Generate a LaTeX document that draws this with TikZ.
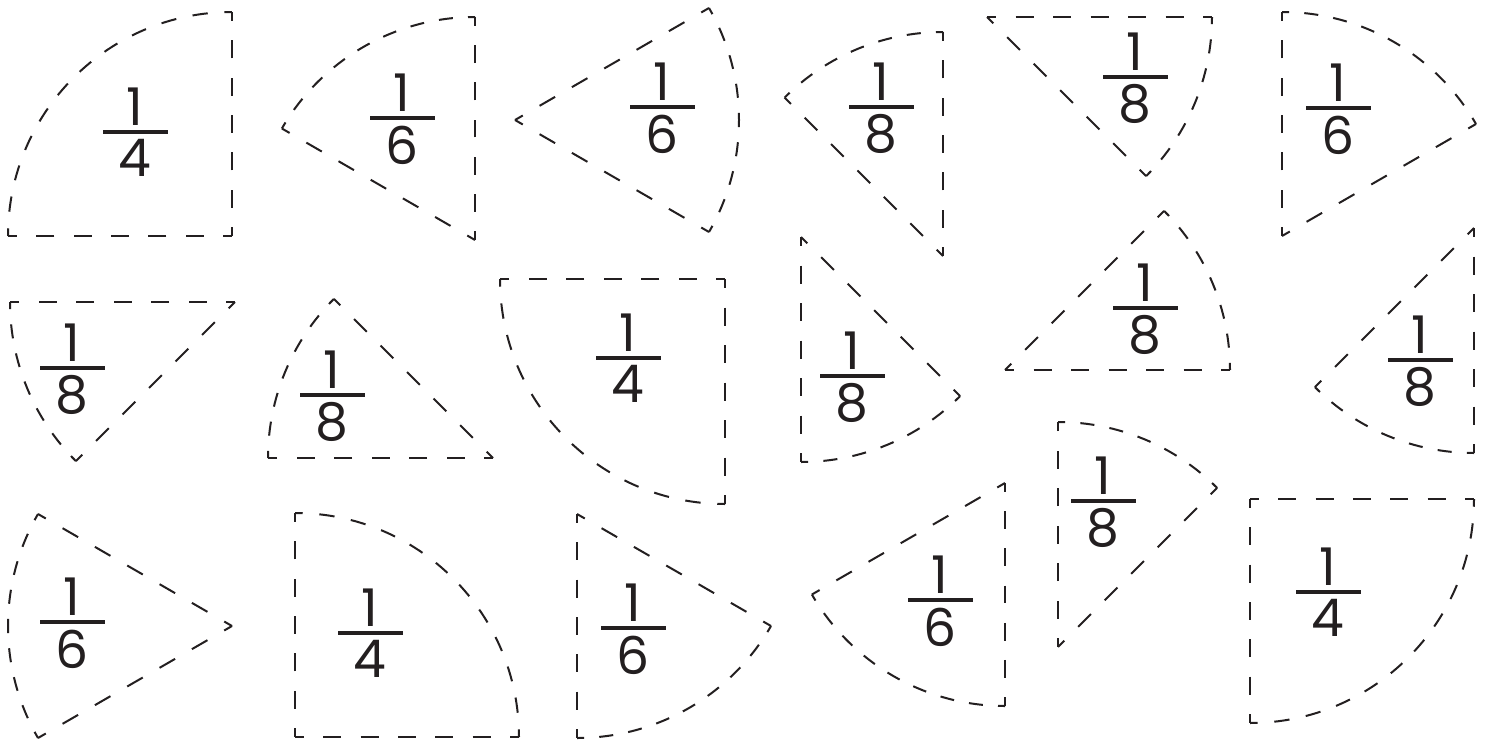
\documentclass[tikz,border=0pt]{standalone}
\usepackage{fontspec}
\setmainfont{Poppins}
\definecolor{ink}{HTML}{231F20}
\tikzset{
  pieedge/.style={draw=ink, line width=2pt},
  fracdigit/.style={inner sep=0pt, text=ink, font=\fontsize{52}{52}\selectfont},
}
% dashed edge helpers: length #1, target period #2 -> sets \pieD \pieG \pieH
\newcommand\piedash[2]{%
  \pgfmathsetmacro\pieN{max(1,round(#1/#2))}%
  \pgfmathsetmacro\pieP{#1/\pieN}%
  \pgfmathsetmacro\pieD{\pieP*0.48}%
  \pgfmathsetmacro\pieG{\pieP-\pieD}%
  \pgfmathsetmacro\pieH{\pieD/2}%
}
% sector: center x, center y (screen, downwards), radius, start angle, end angle
\newcommand\piesector[5]{%
  \piedash{#3}{38}%
  \draw[pieedge, dash pattern=on \pieD pt off \pieG pt, dash phase=\pieH pt] (#1,-#2) -- ++(#4:#3);
  \draw[pieedge, dash pattern=on \pieD pt off \pieG pt, dash phase=\pieH pt] (#1,-#2) -- ++(#5:#3);
  \pgfmathsetmacro\pieArc{(#5-#4)/180*3.14159*#3}%
  \piedash{\pieArc}{31}%
  \draw[pieedge, dash pattern=on \pieD pt off \pieG pt, dash phase=\pieH pt] (#1,-#2) ++(#4:#3) arc[start angle=#4, end angle=#5, radius=#3];
}
% fraction label: name, bar centre x, bar centre y (screen), denominator
\newcommand\piefrac[4]{%
  \fill[ink] (#2-32.5,-#3-2.2) rectangle (#2+32.5,-#3+2.2);
  \node[fracdigit, anchor=south] (#1n) at (#2,-#3+6.5) {1};
  \node[fracdigit, anchor=north] (#1d) at (#2,-#3-7.5) {#4};
}
\begin{document}
\begin{tikzpicture}[x=1pt,y=1pt]
\useasboundingbox (0,0) rectangle (1488,-739);
% row 1
\piesector{232}{236}{224}{90}{180}
\piefrac{a}{135}{132}{4}
\piesector{475}{240}{223}{90}{150}
\piefrac{b}{402}{118}{6}
\piesector{515}{120}{224}{-30}{30}
\piefrac{c}{662}{107}{6}
\piesector{943}{256}{224}{90}{135}
\piefrac{d}{881}{107}{8}
\piesector{987}{17}{225}{-45}{0}
\piefrac{e}{1135}{77}{8}
\piesector{1282}{236}{224}{30}{90}
\piefrac{f}{1338}{108}{6}
% row 2
\piesector{235}{302}{225}{180}{225}
\piefrac{g}{72}{368}{8}
\piesector{493}{458}{225}{135}{180}
\piefrac{h}{332}{395}{8}
\piesector{725}{279}{225}{180}{270}
\piefrac{i}{628}{358}{4}
\piesector{801}{237}{225}{270}{315}
\piefrac{j}{852}{376}{8}
\piesector{1005}{370}{225}{0}{45}
\piefrac{k}{1145}{308}{8}
\piesector{1474}{228}{225}{225}{270}
\piefrac{l}{1420}{360}{8}
% row 3
\piesector{232}{626}{224}{150}{210}
\piefrac{m}{72}{622}{6}
\piesector{295}{737}{224}{0}{90}
\piefrac{n}{370}{633}{4}
\piesector{577}{514}{224}{-90}{-30}
\piefrac{o}{633}{628}{6}
\piesector{1005}{483}{223}{210}{270}
\piefrac{p}{940}{600}{6}
\piesector{1058}{647}{225}{45}{90}
\piefrac{q}{1103}{501}{8}
\piesector{1250}{499}{224}{-90}{0}
\piefrac{r}{1328}{592}{4}
\end{tikzpicture}
\end{document}
